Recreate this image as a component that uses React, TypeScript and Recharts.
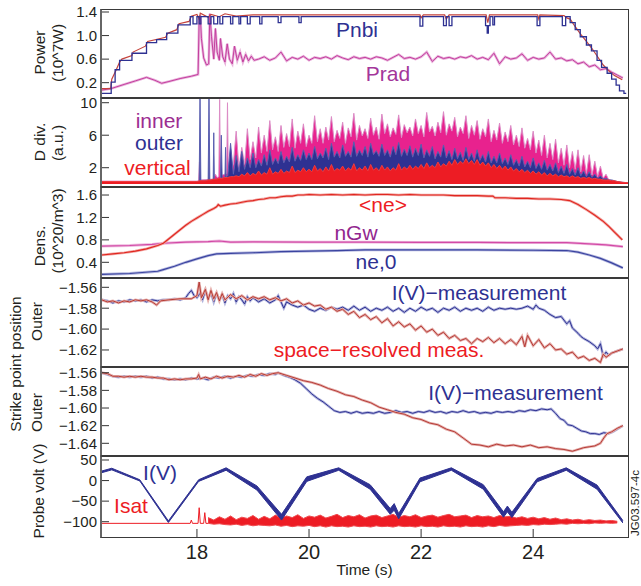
import React from 'react';
import { ComposedChart, Line, Area, XAxis, YAxis } from 'recharts';

const FONT = '"Liberation Sans", Arial, Helvetica, sans-serif';
const INK = '#231f20';
const BLUE = '#2e3192';
const RED = '#ed1c24';
const PURPLE = '#92278f';

const T_MIN = 16.27;
const T_MAX = 25.71;
const timeTicks = [18, 20, 22, 24];
const PAD = 12;

// ---------- Power (10^7 W)
const pnbi = [
  [16.27, 0.02], [16.47, 0.21], [16.54, 0.42], [16.62, 0.58], [16.84, 0.7], [17.1, 0.88], [17.28, 0.93],
  [17.46, 1.04], [17.66, 1.18], [17.88, 1.32], [17.93, 1.2], [18.0, 1.32], [18.04, 1.2], [18.07, 1.32],
  [18.2, 1.2], [18.25, 1.32], [18.3, 1.2], [18.37, 1.32], [18.41, 1.2], [18.46, 1.32], [18.6, 1.2],
  [18.64, 1.32], [18.75, 1.2], [18.78, 1.32], [18.9, 1.2], [18.95, 1.32], [19.12, 1.2], [19.16, 1.32],
  [19.45, 1.22], [19.5, 1.32], [19.82, 1.22], [19.86, 1.32], [21.98, 1.16], [22.03, 1.32], [22.4, 1.17],
  [22.45, 1.32], [22.5, 1.17], [22.55, 1.32], [23.15, 1.17], [23.18, 1.04], [23.2, 1.17], [23.23, 1.32],
  [23.28, 1.18], [23.31, 1.32], [24.07, 1.17], [24.12, 1.32], [24.52, 1.17], [24.58, 1.32], [24.66, 1.22],
  [24.75, 1.1], [24.84, 0.98], [24.95, 0.84], [25.04, 0.74], [25.14, 0.58], [25.22, 0.46], [25.32, 0.36],
  [25.4, 0.26], [25.48, 0.16], [25.54, 0.06], [25.62, 0.02], [25.66, 0.02],
];
const ptot = [
  [16.27, 0.1], [16.46, 0.1], [16.48, 0.26], [16.55, 0.4], [16.62, 0.55], [16.66, 0.6], [16.84, 0.66],
  [16.86, 0.72], [17.08, 0.82], [17.12, 0.9], [17.44, 0.97], [17.48, 1.04], [17.64, 1.1], [17.68, 1.2],
  [17.86, 1.24], [17.9, 1.33], [18.0, 1.36], [18.04, 1.28], [18.06, 1.38], [18.2, 1.31], [18.25, 1.36],
  [18.4, 1.32], [18.5, 1.37], [18.7, 1.33], [19.0, 1.35], [20.0, 1.35], [21.98, 1.35], [22.0, 1.3],
  [22.04, 1.35], [22.42, 1.35], [22.45, 1.28], [22.5, 1.35], [23.16, 1.35], [23.19, 1.22], [23.22, 1.35],
  [24.08, 1.35], [24.1, 1.28], [24.12, 1.35], [24.55, 1.34], [24.6, 1.3], [24.66, 1.28], [24.75, 1.15],
  [24.85, 1.02], [24.95, 0.9], [25.05, 0.78], [25.15, 0.64], [25.25, 0.5], [25.35, 0.4], [25.45, 0.32],
  [25.59, 0.25],
];
const pradEarly = [
  [16.27, 0.07], [16.47, 0.1], [16.7, 0.17], [16.9, 0.23], [17.1, 0.29], [17.25, 0.24], [17.37, 0.19],
  [17.5, 0.22], [17.7, 0.27], [17.9, 0.31], [18.02, 0.34], [18.04, 1.28], [18.06, 1.34], [18.08, 0.95],
  [18.12, 0.62], [18.17, 0.5], [18.21, 0.52], [18.23, 1.37], [18.26, 0.98], [18.3, 0.6], [18.33, 1.12],
  [18.36, 0.72], [18.4, 0.58], [18.42, 0.95], [18.46, 0.64], [18.5, 0.55], [18.54, 0.86], [18.58, 0.6],
  [18.63, 0.52], [18.67, 0.82], [18.72, 0.58], [18.77, 0.72], [18.82, 0.55], [18.87, 0.68], [18.92, 0.57],
  [18.97, 0.65], [19.02, 0.58],
];
const pradLate = [
  0.6, 0.64, 0.58, 0.62, 0.72, 0.57, 0.63, 0.6, 0.65, 0.58, 0.63, 0.61, 0.64, 0.6, 0.66, 0.62, 0.59,
  0.64, 0.61, 0.63, 0.6, 0.64, 0.62, 0.58, 0.63, 0.68, 0.61, 0.63, 0.6, 0.64, 0.72, 0.56, 0.65, 0.61,
  0.63, 0.6, 0.64, 0.62, 0.66, 0.6, 0.63, 0.59, 0.7, 0.52, 0.64, 0.6, 0.62, 0.69, 0.58, 0.63, 0.6, 0.62,
  0.72, 0.6, 0.62, 0.57, 0.59, 0.52, 0.55, 0.47, 0.5, 0.42, 0.44, 0.38, 0.33, 0.28,
];

// ---------- D alpha divertor (a.u.); early spikes as pairs, then every 0.05 s from 18.6 s
const innerHead = [
  [16.27, 0.35], [18.03, 0.35], [18.045, 2.7], [18.06, 0.5], [18.3, 0.6], [18.33, 1.2], [18.36, 0.8],
  [18.39, 0.9], [18.405, 10.4], [18.42, 1.0], [18.53, 1.3], [18.545, 10.0], [18.56, 1.2],
];
const innerVals = [
  1.2, 2.5, 6.5, 2.0, 4.5, 2.4, 6.8, 3.0,
  5.2, 3.2, 7.0, 3.8, 6.0, 4.0, 7.8, 4.2, 5.8, 4.0,
  7.2, 4.5, 6.2, 4.6, 8.0, 4.4, 6.5, 5.0, 7.4, 4.6,
  6.0, 5.0, 8.4, 5.2, 6.8, 5.0, 7.0, 5.4, 8.3, 5.2,
  6.6, 5.6, 7.6, 5.0, 6.9, 5.8, 8.7, 5.4, 7.2, 5.9,
  6.8, 5.6, 8.1, 6.0, 7.0, 5.5, 8.6, 6.2, 7.4, 5.8,
  6.9, 6.1, 8.5, 5.7, 7.3, 6.3, 7.0, 5.9, 8.0, 6.2,
  7.2, 5.8, 8.8, 6.4, 7.1, 5.9, 7.6, 6.3, 8.9, 6.0,
  7.4, 6.5, 8.2, 5.8, 7.0, 6.2, 8.4, 5.6, 7.2, 6.0,
  7.8, 5.5, 6.8, 5.8, 8.0, 5.2, 6.6, 5.4, 7.5, 5.0,
  6.4, 5.2, 7.2, 4.8, 6.0, 4.6, 6.9, 4.4, 5.6, 4.2,
  6.5, 3.8, 5.4, 3.5, 6.0, 3.2, 5.0, 3.0, 5.5, 2.6,
  4.4, 2.3, 4.8, 2.0, 4.0, 1.8, 4.2, 1.5, 3.5, 1.3,
  3.6, 1.1, 2.8, 0.9, 2.2, 0.7, 1.2, 0.5, 0.4, 0.3, 0.2,
];
const innerTail = [[25.6, 0.12], [25.7, 0.1]];
const outerHead = [
  [16.27, 0.17], [17.4, 0.17], [17.42, 0.28], [18.04, 0.3], [18.055, 10.6], [18.07, 0.35], [18.2, 0.4],
  [18.215, 10.6], [18.23, 0.45], [18.29, 0.5], [18.3, 6.3], [18.31, 0.55], [18.42, 0.6], [18.435, 6.0],
  [18.45, 0.7], [18.5, 0.8], [18.51, 4.5], [18.52, 0.9], [18.55, 1.0],
];
const outerVals = [
  5.0, 1.2, 3.5, 1.5, 4.0, 1.8, 3.2, 2.0,
  3.8, 2.0, 3.0, 2.2, 3.6, 2.3, 4.2, 2.4, 3.2, 2.5,
  4.0, 2.6, 3.4, 2.7, 4.5, 2.8, 3.6, 2.9, 4.2, 3.0,
  3.8, 3.0, 4.6, 3.1, 3.8, 3.2, 4.4, 3.0, 5.0, 3.3,
  4.0, 3.2, 4.8, 3.4, 4.0, 3.3, 5.2, 3.4, 4.2, 3.5,
  4.6, 3.3, 5.0, 3.6, 4.1, 3.4, 4.9, 3.5, 4.2, 3.3,
  4.6, 3.6, 5.1, 3.4, 4.3, 3.5, 4.7, 3.3, 4.4, 3.5,
  4.9, 3.2, 4.2, 3.4, 4.6, 3.1, 4.0, 3.3, 4.8, 3.2,
  4.1, 3.0, 4.4, 3.1, 3.9, 2.9, 4.5, 3.0, 3.8, 2.8,
  4.2, 2.9, 3.6, 2.7, 4.0, 2.6, 3.4, 2.6, 3.8, 2.5,
  3.2, 2.4, 3.6, 2.3, 3.0, 2.2, 3.4, 2.1, 2.8, 2.0,
  3.2, 1.9, 2.6, 1.8, 2.9, 1.7, 2.4, 1.6, 2.6, 1.4,
  2.2, 1.3, 2.4, 1.2, 1.9, 1.1, 2.0, 1.0, 1.6, 0.9,
  1.5, 0.8, 1.2, 0.7, 1.0, 0.6, 0.7, 0.5, 0.5, 0.4, 0.3,
];
const outerTail = [[25.6, 0.2], [25.7, 0.15]];
const vertHead = [[16.27, 0.3], [17.98, 0.3]];
const vertVals = [
  0.3, 0.4, 0.4, 0.4, 0.5, 0.5, 0.6, 0.6, 0.7, 0.7,
  0.8, 0.8, 0.9, 0.9, 1.0, 0.9, 1.2, 1.0, 1.4, 1.0,
  1.3, 1.1, 1.6, 1.1, 1.4, 1.2, 2.0, 1.2, 1.5, 1.3,
  1.8, 1.3, 1.6, 1.4, 2.2, 1.4, 1.7, 1.5, 2.0, 1.5,
  1.8, 1.5, 2.3, 1.6, 1.9, 1.5, 2.1, 1.6, 2.4, 1.6,
  1.9, 1.7, 2.2, 1.6, 2.0, 1.7, 2.5, 1.6, 2.0, 1.7,
  2.2, 1.6, 2.4, 1.7, 2.0, 1.6, 2.3, 1.7, 2.1, 1.6,
  2.0, 1.7, 2.5, 1.7, 2.1, 1.8, 2.3, 1.8, 2.2, 1.9,
  2.4, 1.9, 2.6, 2.0, 2.3, 2.0, 2.7, 2.1, 2.5, 2.2,
  2.8, 2.3, 3.0, 2.4, 2.8, 2.5, 3.1, 2.5, 2.9, 2.4,
  3.0, 2.3, 2.7, 2.2, 2.6, 2.0, 2.4, 1.9, 2.3, 1.8,
  2.2, 1.7, 2.1, 1.6, 1.9, 1.5, 1.8, 1.4, 1.7, 1.3,
  1.6, 1.2, 1.5, 1.1, 1.4, 1.0, 1.3, 1.0, 1.2, 0.9,
  1.1, 0.9, 1.0, 0.8, 1.0, 0.8, 0.9, 0.7, 0.8, 0.7,
  0.8, 0.6, 0.7, 0.6, 0.6, 0.5, 0.5, 0.5, 0.4, 0.4, 0.3,
];
const vertTail = [[25.6, 0.2], [25.7, 0.15]];

// ---------- Densities (10^20 m^-3)
const neAvg = [
  [16.3, 0.53], [16.5, 0.55], [16.7, 0.57], [16.9, 0.6], [17.1, 0.64], [17.3, 0.7], [17.4, 0.74],
  [17.5, 0.82], [17.6, 0.9], [17.7, 0.98], [17.8, 1.06], [17.9, 1.13], [18.0, 1.19], [18.1, 1.25],
  [18.2, 1.31], [18.3, 1.36], [18.35, 1.39], [18.38, 1.43], [18.42, 1.4], [18.5, 1.42], [18.6, 1.44],
  [18.7, 1.45], [18.8, 1.47], [18.9, 1.49], [19.0, 1.5], [19.1, 1.52], [19.2, 1.53], [19.3, 1.55],
  [19.4, 1.55], [19.5, 1.57], [19.6, 1.58], [19.7, 1.58], [19.8, 1.6], [19.9, 1.6], [20.0, 1.61],
  [20.2, 1.6], [20.4, 1.61], [20.6, 1.6], [20.8, 1.61], [21.0, 1.6], [21.2, 1.61], [21.4, 1.61],
  [21.6, 1.6], [21.8, 1.61], [22.0, 1.6], [22.2, 1.6], [22.4, 1.6], [22.6, 1.59], [22.8, 1.59],
  [23.0, 1.59], [23.2, 1.58], [23.28, 1.58], [23.32, 1.55], [23.5, 1.55], [23.7, 1.54], [23.9, 1.54],
  [24.1, 1.53], [24.3, 1.53], [24.5, 1.52], [24.65, 1.5], [24.8, 1.43], [24.95, 1.34], [25.1, 1.24],
  [25.25, 1.13], [25.35, 1.04], [25.45, 0.94], [25.52, 0.87], [25.59, 0.8],
];
const nGw = [
  [16.3, 0.69], [16.8, 0.7], [17.2, 0.72], [17.4, 0.74], [17.8, 0.76], [18.2, 0.77], [18.4, 0.78],
  [18.6, 0.76], [19.0, 0.765], [20.0, 0.76], [21.0, 0.76], [22.0, 0.755], [23.0, 0.755], [24.0, 0.75],
  [24.6, 0.75], [25.0, 0.73], [25.3, 0.71], [25.6, 0.68],
];
const ne0 = [
  [16.3, 0.185], [16.8, 0.2], [17.3, 0.24], [17.4, 0.27], [17.6, 0.33], [17.8, 0.4], [18.0, 0.46],
  [18.2, 0.52], [18.35, 0.55], [18.6, 0.56], [19.0, 0.57], [19.5, 0.59], [20.0, 0.6], [20.5, 0.61],
  [21.0, 0.62], [22.0, 0.62], [23.0, 0.62], [24.0, 0.615], [24.6, 0.61], [24.8, 0.58], [25.0, 0.53],
  [25.2, 0.47], [25.4, 0.39], [25.6, 0.3],
];

// ---------- Outer strike point position, two shots (m)
const sp1Iv = [
  [16.3, -1.572], [16.4, -1.573], [16.5, -1.575], [16.6, -1.573], [16.7, -1.574], [16.8, -1.572],
  [16.9, -1.573], [17.0, -1.572], [17.1, -1.574], [17.2, -1.572], [17.3, -1.573], [17.4, -1.572],
  [17.5, -1.572], [17.6, -1.571], [17.7, -1.572], [17.8, -1.57], [17.85, -1.566], [17.9, -1.563],
  [17.95, -1.568], [18.0, -1.57], [18.05, -1.566], [18.1, -1.572], [18.15, -1.563], [18.2, -1.571],
  [18.25, -1.565], [18.3, -1.574], [18.35, -1.566], [18.4, -1.572], [18.45, -1.567], [18.5, -1.575],
  [18.55, -1.568], [18.6, -1.571], [18.65, -1.566], [18.7, -1.574], [18.75, -1.569], [18.8, -1.572],
  [18.85, -1.576], [18.9, -1.569], [18.95, -1.573], [19.0, -1.57], [19.1, -1.574], [19.2, -1.571],
  [19.3, -1.575], [19.4, -1.572], [19.45, -1.568], [19.5, -1.574], [19.55, -1.58], [19.6, -1.574],
  [19.7, -1.577], [19.8, -1.579], [19.9, -1.577], [20.0, -1.581], [20.1, -1.583], [20.2, -1.58],
  [20.3, -1.582], [20.4, -1.579], [20.5, -1.581], [20.6, -1.579], [20.7, -1.582], [20.8, -1.578],
  [20.9, -1.582], [21.0, -1.579], [21.1, -1.583], [21.2, -1.58], [21.3, -1.582], [21.4, -1.579],
  [21.5, -1.583], [21.6, -1.58], [21.7, -1.584], [21.8, -1.58], [21.9, -1.583], [22.0, -1.579],
  [22.1, -1.582], [22.2, -1.58], [22.3, -1.584], [22.4, -1.58], [22.5, -1.582], [22.6, -1.579],
  [22.7, -1.583], [22.8, -1.58], [22.9, -1.582], [23.0, -1.58], [23.1, -1.583], [23.2, -1.579],
  [23.3, -1.582], [23.4, -1.58], [23.5, -1.581], [23.6, -1.58], [23.7, -1.581], [23.8, -1.58],
  [23.9, -1.578], [24.0, -1.581], [24.05, -1.577], [24.1, -1.58], [24.2, -1.582], [24.3, -1.586],
  [24.4, -1.589], [24.5, -1.588], [24.6, -1.595], [24.65, -1.592], [24.7, -1.599], [24.8, -1.604],
  [24.85, -1.607], [24.9, -1.609], [25.0, -1.612], [25.1, -1.616], [25.15, -1.619], [25.2, -1.614],
  [25.25, -1.626], [25.3, -1.622], [25.35, -1.625], [25.4, -1.623], [25.5, -1.621], [25.6, -1.619],
];
const sp1Space = [
  [16.3, -1.572], [16.4, -1.574], [16.5, -1.573], [16.6, -1.575], [16.7, -1.573], [16.8, -1.574],
  [16.9, -1.572], [17.0, -1.573], [17.1, -1.572], [17.2, -1.574], [17.28, -1.577], [17.35, -1.573],
  [17.5, -1.572], [17.7, -1.571], [17.9, -1.571], [18.0, -1.568], [18.04, -1.555], [18.08, -1.57],
  [18.15, -1.562], [18.2, -1.572], [18.25, -1.563], [18.3, -1.571], [18.35, -1.565], [18.4, -1.573],
  [18.45, -1.566], [18.5, -1.572], [18.6, -1.567], [18.7, -1.571], [18.8, -1.568], [18.9, -1.572],
  [19.0, -1.569], [19.1, -1.571], [19.2, -1.569], [19.3, -1.572], [19.4, -1.57], [19.5, -1.573],
  [19.6, -1.571], [19.7, -1.575], [19.8, -1.573], [19.9, -1.577], [20.0, -1.575], [20.1, -1.578],
  [20.2, -1.577], [20.3, -1.581], [20.4, -1.579], [20.5, -1.583], [20.6, -1.581], [20.7, -1.586],
  [20.8, -1.583], [20.9, -1.589], [21.0, -1.586], [21.1, -1.591], [21.2, -1.588], [21.3, -1.594],
  [21.4, -1.59], [21.5, -1.597], [21.6, -1.593], [21.7, -1.598], [21.8, -1.595], [21.9, -1.601],
  [22.0, -1.597], [22.1, -1.603], [22.2, -1.6], [22.3, -1.606], [22.4, -1.603], [22.5, -1.609],
  [22.6, -1.606], [22.7, -1.611], [22.8, -1.609], [22.9, -1.614], [23.0, -1.609], [23.1, -1.612],
  [23.2, -1.608], [23.3, -1.613], [23.4, -1.609], [23.5, -1.614], [23.6, -1.61], [23.7, -1.615],
  [23.8, -1.607], [23.85, -1.617], [23.9, -1.606], [24.0, -1.616], [24.1, -1.61], [24.2, -1.618],
  [24.3, -1.614], [24.4, -1.62], [24.5, -1.619], [24.6, -1.624], [24.7, -1.622], [24.8, -1.628],
  [24.9, -1.626], [25.0, -1.63], [25.1, -1.628], [25.2, -1.632], [25.25, -1.624], [25.3, -1.627],
  [25.4, -1.623], [25.5, -1.621], [25.6, -1.619],
];
const sp2Iv = [
  [16.3, -1.56], [16.4, -1.562], [16.5, -1.564], [16.6, -1.565], [16.7, -1.564], [16.8, -1.565],
  [16.9, -1.564], [17.0, -1.565], [17.1, -1.564], [17.2, -1.566], [17.3, -1.565], [17.4, -1.567],
  [17.5, -1.567], [17.6, -1.568], [17.7, -1.567], [17.8, -1.568], [17.9, -1.566], [18.0, -1.567],
  [18.1, -1.566], [18.2, -1.568], [18.3, -1.565], [18.4, -1.566], [18.5, -1.564], [18.6, -1.566],
  [18.7, -1.564], [18.8, -1.565], [18.9, -1.563], [19.0, -1.564], [19.1, -1.562], [19.2, -1.563],
  [19.3, -1.561], [19.4, -1.562], [19.45, -1.56], [19.55, -1.563], [19.65, -1.565], [19.75, -1.568],
  [19.85, -1.572], [19.95, -1.578], [20.05, -1.584], [20.15, -1.589], [20.25, -1.593], [20.35, -1.598],
  [20.45, -1.603], [20.55, -1.605], [20.65, -1.604], [20.75, -1.606], [20.85, -1.604], [20.95, -1.606],
  [21.05, -1.605], [21.15, -1.606], [21.25, -1.604], [21.35, -1.606], [21.45, -1.605], [21.55, -1.603],
  [21.65, -1.605], [21.75, -1.604], [21.85, -1.606], [21.95, -1.604], [22.05, -1.605], [22.15, -1.603],
  [22.25, -1.605], [22.35, -1.604], [22.45, -1.606], [22.55, -1.604], [22.65, -1.605], [22.75, -1.603],
  [22.85, -1.605], [22.95, -1.604], [23.05, -1.606], [23.15, -1.605], [23.25, -1.606], [23.35, -1.604],
  [23.45, -1.605], [23.55, -1.604], [23.65, -1.605], [23.75, -1.603], [23.85, -1.604], [23.95, -1.602],
  [24.05, -1.603], [24.15, -1.601], [24.25, -1.602], [24.32, -1.601], [24.4, -1.606], [24.48, -1.612],
  [24.55, -1.614], [24.62, -1.619], [24.7, -1.62], [24.78, -1.623], [24.86, -1.626], [24.94, -1.627],
  [25.02, -1.629], [25.1, -1.629], [25.18, -1.63], [25.26, -1.628], [25.34, -1.629], [25.42, -1.627],
  [25.5, -1.624], [25.6, -1.62],
];
const sp2Space = [
  [16.3, -1.56], [16.4, -1.561], [16.5, -1.564], [16.6, -1.564], [16.7, -1.565], [16.8, -1.564],
  [16.9, -1.565], [17.0, -1.564], [17.1, -1.565], [17.2, -1.565], [17.3, -1.566], [17.4, -1.566],
  [17.5, -1.568], [17.6, -1.567], [17.7, -1.568], [17.8, -1.567], [17.9, -1.567], [18.0, -1.566],
  [18.03, -1.562], [18.06, -1.567], [18.15, -1.565], [18.25, -1.567], [18.35, -1.564], [18.45, -1.566],
  [18.55, -1.564], [18.65, -1.565], [18.75, -1.563], [18.85, -1.565], [18.95, -1.562], [19.05, -1.564],
  [19.15, -1.561], [19.25, -1.563], [19.35, -1.561], [19.45, -1.56], [19.6, -1.563], [19.75, -1.566],
  [19.9, -1.569], [20.05, -1.571], [20.2, -1.574], [20.35, -1.578], [20.5, -1.581], [20.65, -1.585],
  [20.8, -1.587], [20.95, -1.591], [21.1, -1.594], [21.25, -1.599], [21.4, -1.602], [21.55, -1.605],
  [21.7, -1.607], [21.85, -1.611], [22.0, -1.613], [22.15, -1.617], [22.3, -1.619], [22.45, -1.624],
  [22.6, -1.627], [22.75, -1.634], [22.9, -1.641], [23.05, -1.642], [23.2, -1.644], [23.35, -1.641],
  [23.5, -1.643], [23.65, -1.642], [23.8, -1.644], [23.95, -1.642], [24.1, -1.645], [24.25, -1.644],
  [24.4, -1.646], [24.55, -1.647], [24.7, -1.649], [24.8, -1.647], [24.9, -1.645], [25.0, -1.644],
  [25.1, -1.643], [25.2, -1.64], [25.26, -1.634], [25.32, -1.629], [25.4, -1.627], [25.5, -1.623],
  [25.6, -1.62],
];

// ---------- Probe voltage (V): I(V) sweep band [t, low, high]; Isat sampled every 0.05 s from 18.2 s
const ivBand = [
  [16.27, 18, 22], [16.48, 26, 30], [16.98, -1, 2], [17.49, -102, -98], [18.03, -2, 2], [18.52, 25, 31],
  [19.07, -23, -13], [19.51, -96, -82], [19.96, -2, 9], [20.53, 25, 31], [21.09, -21, -10],
  [21.45, -82, -68], [21.52, -72, -56], [21.6, -93, -80], [21.98, -3, 6], [22.54, 25, 31],
  [23.11, -21, -10], [23.47, -89, -76], [23.54, -76, -62], [23.62, -90, -77], [24.07, -3, 5],
  [24.59, 25, 31], [25.14, -21, -11], [25.6, -103, -97],
];
const isatHead = [
  [16.27, -104], [17.88, -104], [17.9, -96], [17.92, -104], [18.02, -104], [18.04, -66], [18.06, -104],
  [18.12, -104], [18.14, -78], [18.16, -104], [18.2, -104],
];
const isatVals = [
  -104, -90, -106, -96, -105, -88, -107, -94, -108, -86, -106, -95, -109, -89, -107, -92, -110, -85, -108, -94,
  -109, -87, -110, -93, -108, -84, -111, -91, -109, -86, -112, -90, -110, -83, -111, -92, -109, -86, -112, -89,
  -110, -84, -113, -91, -110, -87, -112, -82, -111, -90, -113, -85, -110, -88, -112, -83, -111, -91, -113, -86,
  -110, -84, -112, -90, -111, -86, -113, -82, -110, -89, -112, -85, -111, -88, -113, -83, -110, -90, -112, -86,
  -111, -84, -113, -89, -110, -85, -112, -82, -111, -88, -113, -86, -110, -84, -112, -90, -111, -85, -113, -88,
  -110, -86, -112, -90, -109, -85, -111, -88, -110, -87, -109, -91, -108, -88, -109, -92, -107, -89, -108, -93,
  -106, -90, -107, -94, -106, -91, -105, -95, -106, -93, -104, -96, -105, -94, -104, -97, -105, -95, -103, -97,
  -104, -96, -103, -98, -104, -97, -103, -99, -103,
];

type Pt = { t: number; v: any };
const pts = (pairs: number[][]): Pt[] =>
  pairs.map(([t, ...rest]) => ({ t, v: rest.length > 1 ? rest : rest[0] }));
const grid = (start: number, step: number, vals: number[]): Pt[] =>
  vals.map((v, i) => ({ t: Math.round((start + i * step) * 1000) / 1000, v }));

const pradData = [...pts(pradEarly), ...grid(19.1, 0.1, pradLate)];
const innerData = [...pts(innerHead), ...grid(18.6, 0.05, innerVals), ...pts(innerTail)];
const outerData = [...pts(outerHead), ...grid(18.6, 0.05, outerVals), ...pts(outerTail)];
const vertData = [...pts(vertHead), ...grid(18.0, 0.05, vertVals), ...pts(vertTail)];
// Isat drawn as a band: each consecutive low/high pair of samples gives one [low, high] point
const isatBand: Pt[] = [];
for (let i = 0; i + 1 < isatVals.length; i += 2) {
  const a = isatVals[i], b = isatVals[i + 1];
  isatBand.push({ t: Math.round((18.2 + i * 0.05) * 1000) / 1000, v: [Math.min(a, b), Math.max(a, b)] });
}

const minus = (s: string) => s.replace('-', '\u2212');

function Panel({ top, h, domain, ticks, fmt, xAxis = false, children }: any) {
  const extra = xAxis ? 40 : PAD;
  return (
    <div style={{ position: 'absolute', left: 0, top: top - PAD }}>
      <ComposedChart width={641} height={h + PAD + extra} margin={{ top: PAD, right: 12, bottom: xAxis ? 0 : PAD, left: 60 }}>
        <XAxis
          type="number"
          dataKey="t"
          domain={[T_MIN, T_MAX]}
          allowDataOverflow
          ticks={timeTicks}
          interval={0}
          hide={!xAxis}
          height={40}
          axisLine={false}
          tickSize={-9}
          tickMargin={16}
          tickLine={{ stroke: '#333' }}
          tick={{ fontSize: 20, fill: INK, fontFamily: FONT }}
        />
        <YAxis
          type="number"
          domain={domain}
          allowDataOverflow
          ticks={ticks}
          interval={0}
          width={40}
          axisLine={false}
          tickSize={-9}
          tickMargin={12}
          tickLine={{ stroke: '#333' }}
          tick={{ fontSize: 15, fill: INK, fontFamily: FONT }}
          tickFormatter={fmt}
        />
        {children}
      </ComposedChart>
      <div
        style={{
          position: 'absolute', left: 100, top: PAD, width: 529, height: h,
          border: '1px solid #3a3a3a', borderLeft: '2px solid #666', boxSizing: 'border-box', pointerEvents: 'none',
        }}
      />
    </div>
  );
}

const ln = (key: string, data: Pt[], color: string, w = 1, halo?: string, type: any = 'linear') => [
  halo ? (
    <Line key={key + 'h'} data={data} dataKey="v" type={type} stroke={halo} strokeWidth={w + 1.6}
      dot={false} isAnimationActive={false} />
  ) : null,
  <Line key={key} data={data} dataKey="v" type={type} stroke={color} strokeWidth={w}
    dot={false} isAnimationActive={false} />,
];

const VText = ({ x, y, children, size = 15.5, color = INK }: any) => (
  <text transform={`translate(${x},${y}) rotate(-90)`} textAnchor="middle" fontSize={size} fill={color}>
    {children}
  </text>
);

const Lbl = ({ x, y, children, color, size = 21 }: any) => (
  <text x={x} y={y} textAnchor="middle" fontSize={size} fill={color}>{children}</text>
);

export default function App() {
  return (
    <div style={{ position: 'absolute', left: 0, top: 0, width: 641, height: 586, background: '#fff', fontFamily: FONT }}>
      <Panel top={9} h={89} domain={[-0.06, 1.451]} ticks={[0.2, 0.6, 1.0, 1.4]} fmt={(v: number) => v.toFixed(1)}>
        {ln('prad', pradData, '#c43e9e', 1, '#e9b3dc')}
        {ln('ptot', pts(ptot), '#c5433b', 1.2)}
        {ln('pnbi', pts(pnbi), BLUE, 1.3, undefined, 'stepAfter')}
      </Panel>

      <Panel top={98} h={89} domain={[-0.375, 10.58]} ticks={[2, 6, 10]} fmt={(v: number) => String(v)}>
        <Area data={innerData} dataKey="v" type="linear" fill="#e8228e" fillOpacity={1} stroke="#dc8cc6"
          strokeWidth={1} isAnimationActive={false} />
        <Area data={outerData} dataKey="v" type="linear" fill="#2e3192" fillOpacity={1} stroke="#5a5fb0"
          strokeWidth={1} isAnimationActive={false} />
        <Area data={vertData} dataKey="v" type="linear" fill="#ed1c24" fillOpacity={1} stroke="#ef3b3f"
          strokeWidth={1} isAnimationActive={false} />
      </Panel>

      <Panel top={187} h={91} domain={[0.12, 1.743]} ticks={[0.4, 0.8, 1.2, 1.6]} fmt={(v: number) => v.toFixed(1)}>
        {ln('ngw', pts(nGw), '#d24aa6', 1.2, '#eeb8de')}
        {ln('ne0', pts(ne0), '#3b44a0', 1.2, '#b3b6de')}
        {ln('ne', pts(neAvg), '#e0261f', 1.1, '#f2a9a6')}
      </Panel>

      <Panel top={278} h={89} domain={[-1.6363, -1.5511]} ticks={[-1.62, -1.6, -1.58, -1.56]}
        fmt={(v: number) => minus(v.toFixed(2))}>
        {ln('s1i', pts(sp1Iv), BLUE, 1, '#b0b3dc')}
        {ln('s1s', pts(sp1Space), '#b63b36', 1, '#e6b0ad')}
      </Panel>

      <Panel top={367} h={89} domain={[-1.6544, -1.5535]} ticks={[-1.64, -1.62, -1.6, -1.58, -1.56]}
        fmt={(v: number) => minus(v.toFixed(2))}>
        {ln('s2i', pts(sp2Iv), BLUE, 1, '#b0b3dc')}
        {ln('s2s', pts(sp2Space), '#b63b36', 1, '#e6b0ad')}
      </Panel>

      <Panel top={456} h={82} xAxis domain={[-139.6, 59.7]} ticks={[-100, -50, 0, 50]}
        fmt={(v: number) => minus(String(v))}>
        {ln('isatHead', pts(isatHead), '#ed1c24', 1)}
        <Area data={isatBand} dataKey="v" type="linear" fill="#ed1c24" fillOpacity={1} stroke="#f04a4e"
          strokeWidth={1} isAnimationActive={false} />
        <Area data={pts(ivBand)} dataKey="v" type="linear" fill={BLUE} fillOpacity={1} stroke={BLUE}
          strokeWidth={1} isAnimationActive={false} />
      </Panel>

      <svg width={641} height={586} style={{ position: 'absolute', left: 0, top: 0, pointerEvents: 'none' }}
        fontFamily={FONT}>
        <VText x={44.5} y={52.5}>Power</VText>
        <VText x={63} y={53}>(10^7W)</VText>
        <VText x={44.5} y={142}>D div.</VText>
        <VText x={63} y={143}>(a.u.)</VText>
        <VText x={44.5} y={246}>Dens.</VText>
        <VText x={63} y={231}>(10^20/m^3)</VText>
        <VText x={21} y={364}>Strike point position</VText>
        <VText x={41.5} y={321.5}>Outer</VText>
        <VText x={41.5} y={412.5}>Outer</VText>
        <VText x={44} y={491}>Probe volt (V)</VText>
        <VText x={638.5} y={503} size={11.5}>JG03.597-4c</VText>

        <Lbl x={357} y={37} color={BLUE}>Pnbi</Lbl>
        <Lbl x={388} y={81} color="#a3369a">Prad</Lbl>
        <Lbl x={159} y={128} color="#9c2d91">inner</Lbl>
        <Lbl x={159} y={150} color={BLUE}>outer</Lbl>
        <Lbl x={157.5} y={175} color={RED}>vertical</Lbl>
        <Lbl x={383} y={212} color={RED}>{'<ne>'}</Lbl>
        <Lbl x={356} y={240} color={PURPLE}>nGw</Lbl>
        <Lbl x={376} y={269} color={BLUE}>ne,0</Lbl>
        <Lbl x={479} y={300} color={BLUE}>I(V){'\u2212'}measurement</Lbl>
        <Lbl x={379} y={357} color={RED}>space{'\u2212'}resolved meas.</Lbl>
        <Lbl x={515.5} y={400} color={BLUE}>I(V){'\u2212'}measurement</Lbl>
        <Lbl x={160} y={480} color={BLUE}>I(V)</Lbl>
        <Lbl x={131} y={513} color={RED}>Isat</Lbl>
        <Lbl x={364.5} y={575} color={INK} size={15.5}>Time (s)</Lbl>
      </svg>
    </div>
  );
}
